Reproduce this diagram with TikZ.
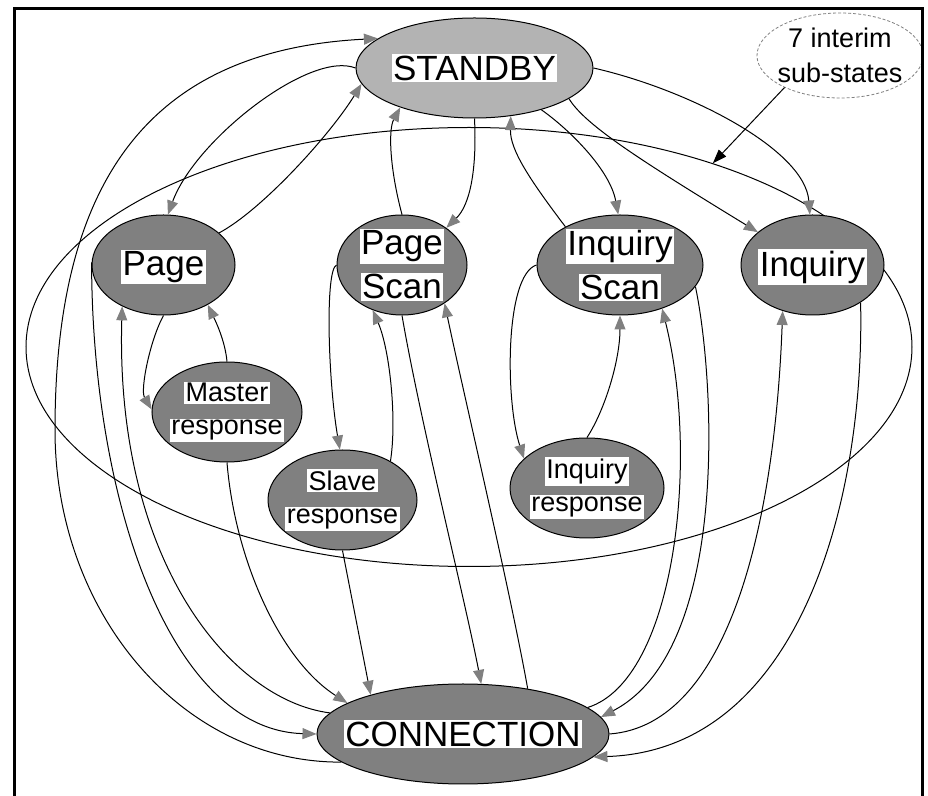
\documentclass[tikz,border=0pt]{standalone}
\usepackage{fontspec}
\setmainfont{Liberation Sans}
\usetikzlibrary{shapes.geometric,arrows.meta}

\definecolor{stategray}{RGB}{128,128,128}
\definecolor{standbygray}{RGB}{179,179,179}
\definecolor{tipgray}{RGB}{128,128,128}

% white box tightly around one line of a state label
\newcommand\wbox[1]{{\fboxsep=0.75pt\colorbox{white}{#1}}}

\begin{document}
\begin{tikzpicture}[x=0.5pt,y=-0.5pt,
  state/.style={draw=black,line width=0.5pt,ellipse,fill=stategray,inner sep=0pt,minimum height=50pt},
  bigtxt/.style={inner sep=0pt,align=center,font=\fontsize{17.5pt}{22pt}\selectfont},
  smalltxt/.style={inner sep=0pt,align=center,font=\fontsize{13.5pt}{16.5pt}\selectfont},
  subtxt/.style={inner sep=0pt,align=center,font=\fontsize{13.5pt}{17.5pt}\selectfont},
  edge/.style={draw=black,line width=0.5pt,-{Triangle[length=7pt,width=5.5pt,color=tipgray]}},
  pointer/.style={draw=black,line width=0.5pt,-{Triangle[length=7pt,width=5pt,color=black]}}]

\useasboundingbox (0,0) rectangle (928,796);
\clip (0,0) rectangle (928,796);
\fill[white] (0,0) rectangle (928,796);

% region holding the interim sub-states
\node[draw=black,line width=0.5pt,ellipse,inner sep=0pt,minimum width=443pt,minimum height=219.5pt] (region) at (469,347) {};

% states
\node[state,fill=standbygray,minimum width=118.5pt] (standby) at (474.5,68) {};
\node[state,minimum width=71.5pt] (page)  at (163.5,265) {};
\node[state,minimum width=65pt]   (pscan) at (402,265) {};
\node[state,minimum width=83pt]   (iscan) at (620,265) {};
\node[state,minimum width=71.5pt] (inq)   at (812.5,265) {};
\node[state,minimum width=75pt]   (mresp) at (227,412) {};
\node[state,minimum width=74.5pt] (sresp) at (342.5,500) {};
\node[state,minimum width=77pt]   (iresp) at (587,488) {};
\node[state,minimum width=146pt]  (conn)  at (463,734) {};
\node[draw=stategray,line width=0.4pt,dash pattern=on 1.5pt off 1pt,ellipse,inner sep=0pt,
      minimum width=83pt,minimum height=42.5pt] (sub) at (840,55.5) {};

% state labels
\node[bigtxt] (standby-lbl) at (standby) {\wbox{STANDBY}};
\node[bigtxt] (page-lbl) at ([yshift=-1pt]page) {\wbox{Page}};
\node[bigtxt] (pscan-lbl) at (pscan) {\wbox{Page}\\\wbox{Scan}};
\node[bigtxt] (iscan-lbl) at (iscan) {\wbox{Inquiry}\\\wbox{Scan}};
\node[bigtxt] (inq-lbl) at ([yshift=-1pt]inq) {\wbox{Inquiry}};
\node[smalltxt] (mresp-lbl) at (mresp) {\wbox{Master}\\\wbox{response}};
\node[smalltxt] (sresp-lbl) at (sresp) {\wbox{Slave}\\\wbox{response}};
\node[smalltxt] (iresp-lbl) at (iresp) {\wbox{Inquiry}\\\wbox{response}};
\node[bigtxt] (conn-lbl) at (conn) {\wbox{CONNECTION}};
\node[subtxt] (sub-lbl) at (sub) {7 interim\\sub-states};

% transitions on the left
\draw[edge] (conn.193) .. controls (183,763) and (55,614) .. (55,430)
                       .. controls (55,180) and (150,50) .. (standby.163);
\draw[edge] (standby.180) .. controls (310,50) and (195,140) .. (page.85);
\draw[edge] (page.30) .. controls (262,210) and (330,135) .. (standby.188);
\draw[edge] (conn.171) .. controls (230,700) and (115,560) .. (page.225);
\draw[edge] (page.178) .. controls (92,500) and (170,730) .. (conn.180);
\draw[edge] (page.270) .. controls (150,340) and (140,390) .. (mresp.178);
\draw[edge] (mresp.90) .. controls (225,340) and (215,320) .. (page.318);
\draw[edge] (mresp.270) .. controls (235,560) and (280,660) .. (conn.165);

% transitions through Page Scan
\draw[edge] (standby.270) .. controls (477,170) and (470,205) .. (pscan.40);
\draw[edge] (pscan.90) .. controls (390,170) and (388,130) .. (standby.208);
\draw[edge] (pscan.180) .. controls (325,270) and (328,380) .. (sresp.93);
\draw[edge] (sresp.39) .. controls (397,420) and (390,350) .. (pscan.237);
\draw[edge] (sresp.270) -- (conn.157);
\draw[edge] (pscan.270) .. controls (420,420) and (465,600) .. (conn.70);
\draw[edge] (conn.35) .. controls (510,590) and (465,400) .. (pscan.318);

% transitions through Inquiry Scan
\draw[edge] (standby.328) .. controls (570,130) and (610,170) .. (iscan.92);
\draw[edge] (iscan.145) .. controls (530,180) and (510,150) .. (standby.307);
\draw[edge] (iscan.180) .. controls (505,275) and (505,400) .. (iresp.155);
\draw[edge] (iresp.90) .. controls (605,410) and (620,360) .. (iscan.270);
\draw[edge] (conn.12) .. controls (675,680) and (700,460) .. (iscan.314);
\draw[edge] (iscan.344) .. controls (715,380) and (730,650) .. (conn.7);

% transitions through Inquiry
\draw[edge] (standby.0) .. controls (690,90) and (805,150) .. (inq.93);
\draw[edge] (standby.342) .. controls (585,125) and (640,160) .. (inq.149);
\draw[edge] (conn.0) .. controls (730,725) and (775,520) .. (inq.237);
\draw[edge] (inq.322) .. controls (865,500) and (800,750) .. (conn.350);

% pointer from the note to the region
\draw[pointer] (sub.210) -- (region.37);

% frame
\draw[line width=1.5pt] (14.5,8.3) rectangle (922.5,830);
\end{tikzpicture}
\end{document}
